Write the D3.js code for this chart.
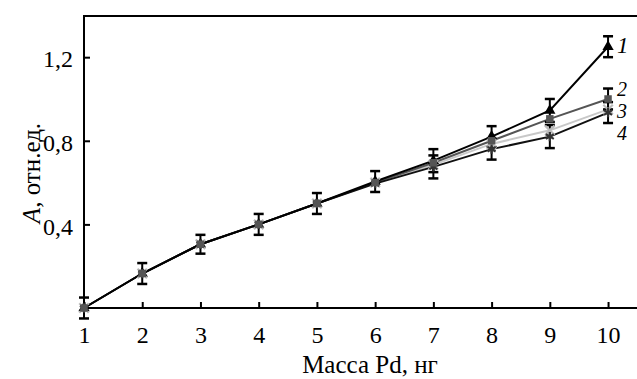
<!DOCTYPE html>
<html><head><meta charset="utf-8">
<script src="https://cdn.jsdelivr.net/npm/d3@7"></script>
<style>
html,body{margin:0;padding:0;background:#fff;}
svg{display:block;}
text{font-family:"Liberation Serif","Times New Roman",serif;}
</style></head>
<body>
<script>
const massPd = [1,2,3,4,5,6,7,8,9,10];
const series1 = [0,0.165,0.305,0.40,0.50,0.605,0.705,0.82,0.945,1.25];
const series2 = [0,0.165,0.305,0.40,0.50,0.60,0.695,0.80,0.905,1.0];
const series3 = [0,0.165,0.305,0.40,0.50,0.60,0.685,0.785,0.85,0.95];
const series4 = [0,0.165,0.305,0.40,0.50,0.595,0.675,0.76,0.82,0.935];
const errors = [0.05,0.05,0.045,0.05,0.05,0.05,0.055,0.05,0.055,0.05];
const seriesLabels = ["1","2","3","4"];
const xTicks = [1,2,3,4,5,6,7,8,9,10];
const yTicks = [0.4,0.8,1.2];
const yTickLabels = ["0,4","0,8","1,2"];

const W=637,H=379;
const svg=d3.select("body").append("svg").attr("width",W).attr("height",H);
const x=d3.scaleLinear().domain([1,10.48]).range([84,636]);
const y=d3.scaleLinear().domain([0,1.397]).range([308,16]);
const FONT="'Liberation Serif','Times New Roman',serif";

const series=[
 {vals:series1,color:"#000",marker:"triangle",label:seriesLabels[0],ly:45,errFrom:0},
 {vals:series2,color:"#555",marker:"square",label:seriesLabels[1],ly:89,errFrom:9},
 {vals:series3,color:"#c8c8c8",marker:"cross",label:seriesLabels[2],ly:111,errFrom:99},
 {vals:series4,color:"#111",marker:"star",label:seriesLabels[3],ly:133,errFrom:6}
];

// top line
svg.append("line").attr("x1",83).attr("x2",637).attr("y1",16).attr("y2",16).attr("stroke","#000").attr("stroke-width",2);

// axes
const xAxis=d3.axisBottom(x).tickValues(xTicks).tickSize(-6).tickPadding(18).tickFormat(d=>String(d));
const gx=svg.append("g").attr("transform","translate(0,308)").call(xAxis);
gx.select(".domain").attr("stroke-width",2).attr("d","M83,0H637");
gx.selectAll(".tick line").attr("stroke-width",2);
gx.selectAll("text").attr("font-size",24).attr("fill","#000").attr("font-family",FONT);

const yAxis=d3.axisLeft(y).tickValues(yTicks).tickSize(-6).tickPadding(11).tickFormat((d,i)=>yTickLabels[i]);
const gy=svg.append("g").attr("transform","translate(84,0)").call(yAxis);
gy.select(".domain").attr("stroke-width",2).attr("d","M0,16V308");
gy.selectAll(".tick line").attr("stroke-width",2);
gy.selectAll("text").attr("font-size",24).attr("dy","0.4em").attr("fill","#000").attr("font-family",FONT);

// lines
const line=d3.line().x((d,i)=>x(massPd[i])).y(d=>y(d));
[2,1,3,0].forEach(k=>{
  const s=series[k];
  svg.append("path").datum(s.vals).attr("d",line).attr("fill","none").attr("stroke",s.color).attr("stroke-width",2);
});

// error bars
[0,1,3].forEach(k=>{
  const s=series[k];
  const g=svg.append("g");
  s.vals.forEach((v,i)=>{
    if(i<s.errFrom) return;
    const cx=x(massPd[i]), y1=y(v+errors[i]), y2=y(v-errors[i]);
    g.append("line").attr("x1",cx).attr("x2",cx).attr("y1",y1).attr("y2",y2).attr("stroke","#000").attr("stroke-width",2);
    g.append("line").attr("x1",cx-5).attr("x2",cx+5).attr("y1",y1).attr("y2",y1).attr("stroke","#000").attr("stroke-width",2.5);
    g.append("line").attr("x1",cx-5).attr("x2",cx+5).attr("y1",y2).attr("y2",y2).attr("stroke","#000").attr("stroke-width",2.5);
  });
});

// markers
const sym={triangle:d3.symbolTriangle,square:d3.symbolSquare,cross:d3.symbolX,star:d3.symbolAsterisk};
[0,2,3,1].forEach(k=>{
  const s=series[k];
  s.vals.forEach((v,i)=>{
    const cx=x(massPd[i]),cy=y(v);
    const p=svg.append("path").attr("transform",`translate(${cx},${cy})`);
    if(s.marker==="triangle"||s.marker==="square"){
      p.attr("d",d3.symbol().type(sym[s.marker]).size(s.marker==="square"?56:55)()).attr("fill",s.marker==="square"?"#555":"#000");
    } else {
      p.attr("d",d3.symbol().type(sym[s.marker]).size(60)()).attr("fill","none").attr("stroke",s.marker==="cross"?"#bbb":"#333").attr("stroke-width",2.2);
    }
  });
});

// series labels
series.forEach((s,i)=>{
  svg.append("text").attr("x",617).attr("y",s.ly).attr("dy","0.35em").attr("font-size",i===0?23:20).attr("font-style","italic").attr("font-family",FONT).text(s.label);
});

// axis titles
svg.append("text").attr("x",370).attr("y",373).attr("text-anchor","middle").attr("font-size",25).attr("font-family",FONT).text("Масса Pd, нг");
const yt=svg.append("text").attr("transform","translate(40,173) rotate(-90)").attr("text-anchor","middle").attr("font-size",25).attr("font-family",FONT);
yt.append("tspan").attr("font-style","italic").text("A");
yt.append("tspan").text(", отн.ед.");
</script>
</body></html>
